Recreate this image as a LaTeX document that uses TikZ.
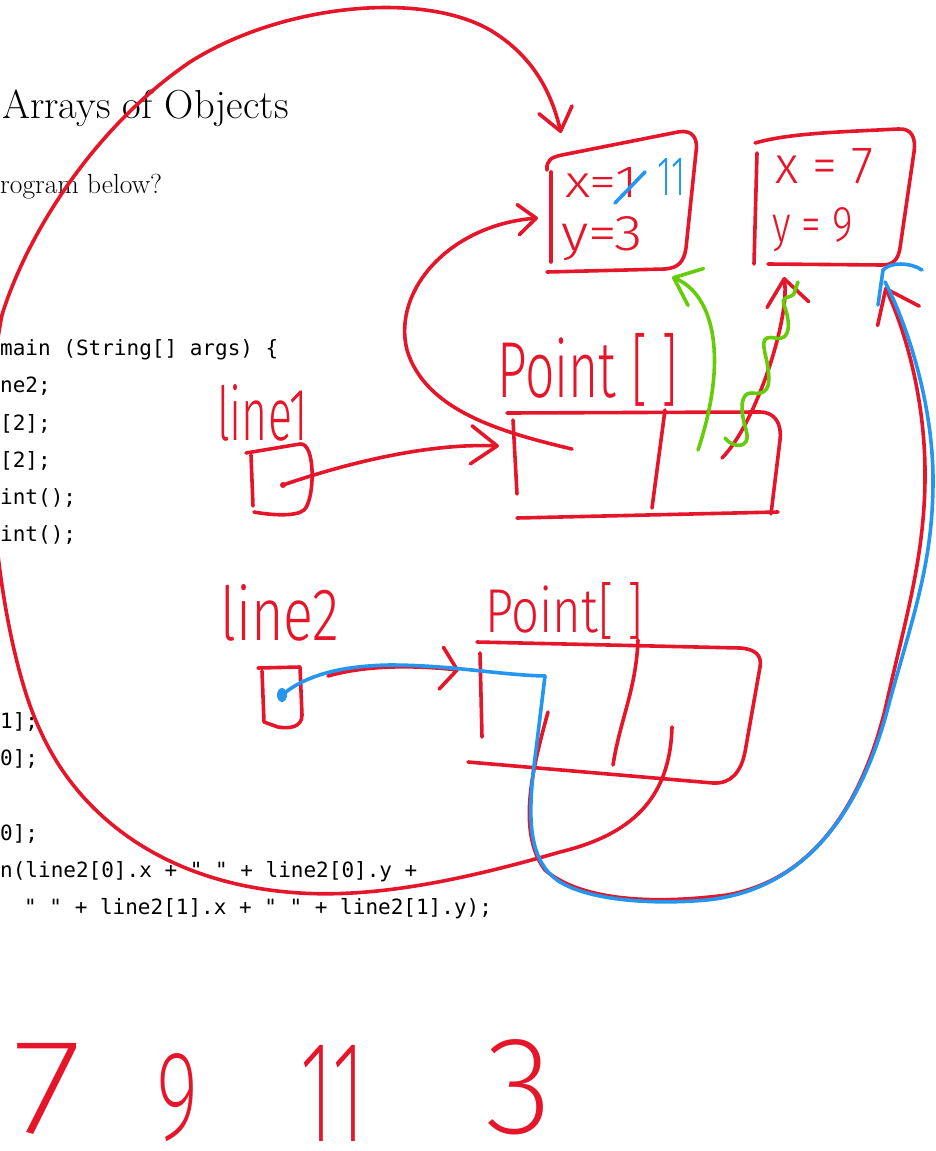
\documentclass[tikz,border=0pt]{standalone}
\usepackage{fontspec}
\usepackage{graphicx}
\usepackage{tikz}
\usetikzlibrary{arrows.meta}
\newfontfamily\codefont{DejaVu Sans Mono}
\IfFontExistsTF{Fira Sans Light}{\newfontfamily\handfont{Fira Sans Light}}{\newfontfamily\handfont{Open Sans}}
\IfFontExistsTF{Fira Sans ExtraLight}{\newfontfamily\thinhand{Fira Sans ExtraLight}}{\let\thinhand\handfont}
\definecolor{inkred}{RGB}{230,22,42}
\definecolor{inkblue}{RGB}{36,150,240}
\definecolor{inkgreen}{RGB}{102,204,10}

\begin{document}
\begin{tikzpicture}[
    x=1pt, y=-1pt,
    ink/.style={line width=3.6pt, line cap=round, line join=round},
    barb/.style 2 args={-{Straight Barb[round, length=#1, width=#2]}},
    slide/.style={anchor=base west, inner sep=0pt},
    code/.style={font=\codefont\fontsize{21}{21}\selectfont, anchor=base west, inner sep=0pt},
    hand/.style={text=inkred, font=\handfont, anchor=base west, inner sep=0pt}
]
    \useasboundingbox (0,0) rectangle (935,1151);
    \fill[white] (0,0) rectangle (935,1151);
    \clip (0,0) rectangle (935,1151);

    % Slide text
    \node[slide, font=\fontsize{40.5}{40.5}\selectfont] (title) at (2,118) {Arrays of Objects};
    \node[slide, font=\fontsize{27.5}{27.5}\selectfont] (question) at (0,193) {rogram below?};
    \node[code] (c0) at (0,355) {main (String[] args) \{};
    \node[code] (c1) at (0,392) {ne2;};
    \node[code] (c2) at (0,430) {[2];};
    \node[code] (c3) at (0,467) {[2];};
    \node[code] (c4) at (0,504) {int();};
    \node[code] (c5) at (0,541) {int();};
    \node[code] (c10) at (0,728) {1];};
    \node[code] (c11) at (0,765) {0];};
    \node[code] (c13) at (0,840) {0];};
    \node[code] (c14) at (0,877) {n(line2[0].x + " " + line2[0].y +};
    \node[code] (c15) at (24,914) {" " + line2[1].x + " " + line2[1].y);};

    % Anchors of the connectors
    \coordinate (l1dot) at (283,485);
    \coordinate (l2dot) at (282,695);
    \coordinate (l2start) at (328,676);
    \coordinate (a1left) at (499,446);
    \coordinate (a2left) at (459,670);
    \coordinate (a1c0) at (572,449);
    \coordinate (a1c1) at (722,458);
    \coordinate (a1c1g) at (698,450);
    \coordinate (a2c0) at (548,712);
    \coordinate (a2c1) at (672,727);
    \coordinate (obj1top) at (561,133);
    \coordinate (obj1left) at (538,218);
    \coordinate (obj1bot) at (672,277);
    \coordinate (obj2bot) at (784,277);
    \coordinate (obj2in) at (885,287);
    \coordinate (obj2end) at (885,282);

    % Handwritten labels
    \node[hand] (line1) at (217,440) {\resizebox{91pt}{56pt}{line1}};
    \node[hand] (line2) at (220,640) {\resizebox{119pt}{56pt}{line2}};
    \node[hand] (type1) at (497,397) {\resizebox{181pt}{64pt}{Point [ ]}};
    \node[hand] (type2) at (485,632) {\resizebox{158pt}{50pt}{Point[ ]}};
    \node[hand] (x1) at (565,197) {\resizebox{73pt}{30pt}{x=1}};
    \node[hand, text=inkblue] (x11) at (657,195) {\resizebox{28pt}{37pt}{11}};
    \node[hand] (y1) at (561,250) {\resizebox{82pt}{34pt}{y=3}};
    \node[hand] (x2) at (775,183) {\resizebox{98pt}{35pt}{x = 7}};
    \node[hand] (y2) at (772,241) {\resizebox{81pt}{34pt}{y = 9}};
    \node[hand, font=\thinhand] (out7) at (12,1133) {\resizebox{70pt}{90pt}{7}};
    \node[hand, font=\thinhand] (out9) at (156,1139) {\resizebox{42pt}{86pt}{9}};
    \node[hand, font=\thinhand] (out11) at (300,1141) {\resizebox{65pt}{96pt}{11}};
    \node[hand, font=\thinhand] (out3) at (485,1133) {\resizebox{67pt}{94pt}{3}};

    % Boxes
    \draw[ink, inkred] (246,453) -- (300,444) .. controls (316,442) and (315,500) .. (304,510) .. controls (296,517) and (270,515) .. (254,512);
    \draw[ink, inkred] (251,455) -- (253,506);
    \draw[ink, inkred] (258,668) -- (300,667) -- (302,715) .. controls (302,727) and (290,729) .. (278,727) -- (264,722) -- (262,671);
    \draw[ink, inkred] (507,413) -- (760,412) .. controls (775,412) and (782,424) .. (780,440) -- (771,514);
    \draw[ink, inkred] (517,518) -- (778,512);
    \draw[ink, inkred] (513,420) -- (517,494);
    \draw[ink, inkred] (665,410) -- (652,508);
    \draw[ink, inkred] (477,642) -- (740,648) .. controls (756,649) and (762,656) .. (760,667) -- (745,752) .. controls (741,772) and (731,784) .. (713,783) -- (468,762);
    \draw[ink, inkred] (480,653) -- (482,737);
    \draw[ink, inkred] (638,640) .. controls (636,690) and (620,720) .. (613,765);
    \draw[ink, inkred] (547,170) .. controls (546,160) and (552,157) .. (562,155) -- (678,132) .. controls (694,129) and (698,140) .. (696,152) -- (686,248) .. controls (684,262) and (678,268) .. (665,269) -- (547,272);
    \draw[ink, inkred] (551,172) -- (551,262);
    \draw[ink, inkred] (755,143) .. controls (790,133) and (840,132) .. (898,129) .. controls (912,128) and (916,138) .. (914,152) -- (900,248) .. controls (898,260) and (893,265) .. (882,265) -- (768,264);
    \draw[ink, inkred] (757,153) -- (754,264);
    \fill[inkred] (l1dot) circle (3pt);

    % Red references
    \draw[ink, inkred, barb={26pt}{38pt}] (l1dot) .. controls (350,462) and (430,443) .. (a1left);
    \draw[ink, inkred, barb={16pt}{42pt}] (l2start) .. controls (370,664) and (420,666) .. (a2left);
    \draw[ink, inkred, barb={18pt}{30pt}] (a1c0) .. controls (500,432) and (425,410) .. (407,350) .. controls (392,290) and (450,225) .. (obj1left);
    \draw[ink, inkred, barb={26pt}{42pt}] (a1c1) .. controls (755,425) and (790,320) .. (obj2bot);
    \draw[ink, inkred, barb={30pt}{46pt}] (a2c0) .. controls (535,760) and (515,830) .. (545,870) .. controls (580,900) and (650,905) .. (727,895) .. controls (810,880) and (860,810) .. (885,710) .. controls (905,620) and (924,560) .. (925,480) .. controls (926,400) and (905,330) .. (obj2in);
    \draw[ink, inkred, barb={22pt}{34pt}] (a2c1) .. controls (670,800) and (630,835) .. (560,852) .. controls (470,878) and (380,898) .. (300,893) .. controls (170,885) and (80,820) .. (40,730) .. controls (2,650) and (-25,450) .. (2,315) .. controls (25,240) and (90,130) .. (190,62) .. controls (280,5) and (420,-10) .. (490,30) .. controls (535,57) and (552,95) .. (obj1top);

    % Blue trace
    \fill[inkblue] (l2dot) ellipse (5pt and 7pt);
    \draw[ink, inkblue] (l2dot) .. controls (300,680) and (330,666) .. (390,665) .. controls (450,665) and (500,675) .. (545,676) -- (536,750) .. controls (528,810) and (525,860) .. (560,882) .. controls (590,900) and (650,905) .. (707,900) .. controls (800,890) and (860,820) .. (890,700) .. controls (915,610) and (933,560) .. (933,480) .. controls (933,400) and (905,320) .. (obj2end);
    \draw[ink, inkblue] (878,305) -- (883,270) .. controls (890,262) and (910,262) .. (922,270);
    \draw[ink, inkblue] (615,203) -- (645,172);

    % Green trace
    \draw[ink, inkgreen, barb={24pt}{40pt}] (a1c1g) .. controls (728,360) and (715,295) .. (obj1bot);
    \draw[ink, inkgreen] (725,438) .. controls (732,448) and (752,450) .. (746,430) .. controls (740,410) and (740,392) .. (752,393) .. controls (772,396) and (770,380) .. (767,362) .. controls (763,345) and (760,335) .. (775,338) .. controls (792,342) and (790,320) .. (784,305) .. controls (780,294) and (795,300) .. (795,290) -- (798,282);
\end{tikzpicture}
\end{document}
